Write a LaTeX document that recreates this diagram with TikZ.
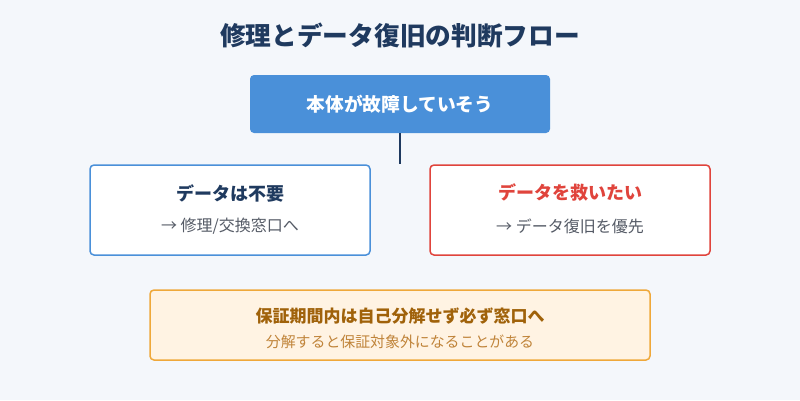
\documentclass[tikz,border=0pt]{standalone}
\usepackage{fontspec}
\setmainfont{Noto Sans CJK JP}
\usetikzlibrary{positioning}
\definecolor{bgc}{HTML}{F4F7FB}
\definecolor{navy}{HTML}{1F3A5F}
\definecolor{blu}{HTML}{4A90D9}
\definecolor{rd}{HTML}{E0443C}
\definecolor{gry}{HTML}{555B66}
\definecolor{orf}{HTML}{FFF3E3}
\definecolor{orb}{HTML}{EFA83A}
\definecolor{ort}{HTML}{A0620A}
\definecolor{ors}{HTML}{C0843A}
\tikzset{
  box/.style={draw,rounded corners=4pt,line width=1.5pt,fill=white},
  head/.style={font=\fontsize{18}{21}\selectfont\bfseries},
  sub/.style={font=\fontsize{16}{19}\selectfont,text=gry}
}
\begin{document}
\begin{tikzpicture}[x=1pt,y=-1pt]
  \fill[bgc] (0,0) rectangle (800,400);
  \useasboundingbox (0,0) rectangle (800,400);
  \node[font=\fontsize{25.7}{30}\selectfont\bfseries,text=navy] (title) at (400,35) {修理とデータ復旧の判断フロー};
  % top
  \draw[rounded corners=4pt,fill=blu,draw=none] (250,75) rectangle (550,133);
  \node[head,text=white,font=\fontsize{18.7}{22}\selectfont\bfseries] (top) at (400,104) {本体が故障していそう};
  \coordinate (topb) at (400,133);
  \coordinate (split) at (400,164);
  \draw[navy,line width=1.5pt] (topb) -- (split);
  % left
  \draw[box,draw=blu] (90,165) rectangle (370,255);
  \node[head,text=navy] (lh) at (230,193) {データは不要};
  \node[sub] (ls) at (230,226) {→ 修理/交換窓口へ};
  % right
  \draw[box,draw=rd] (430,165) rectangle (710,255);
  \node[head,text=rd] (rh) at (570,193) {データを救いたい};
  \node[sub] (rs) at (570,226) {→ データ復旧を優先};
  % note
  \draw[box,draw=orb,fill=orf] (150,290) rectangle (650,360);
  \node[head,text=ort,font=\fontsize{17}{20}\selectfont\bfseries] (nh) at (400,316) {保証期間内は自己分解せず必ず窓口へ};
  \node[sub,text=ors,font=\fontsize{14.9}{18}\selectfont] (ns) at (400,342) {分解すると保証対象外になることがある};
\end{tikzpicture}
\end{document}
